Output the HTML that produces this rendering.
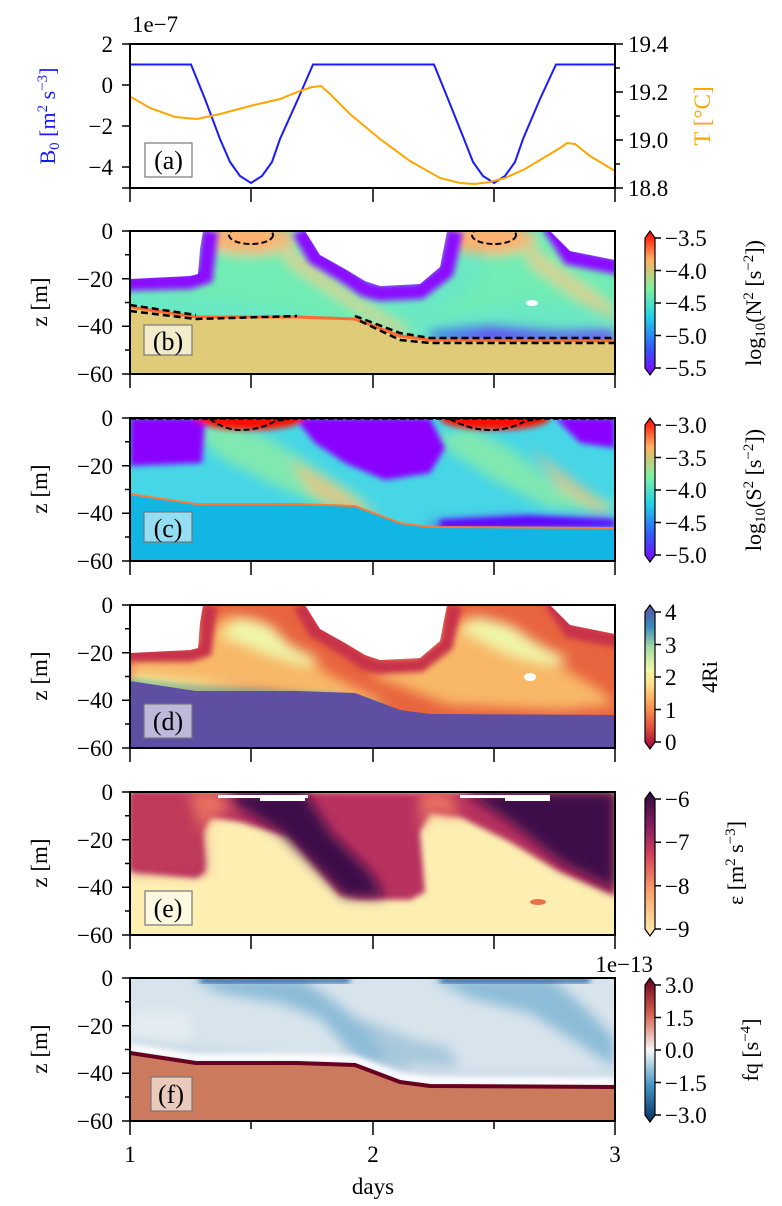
<!DOCTYPE html>
<html><head><meta charset="utf-8"><style>
html,body{margin:0;padding:0;background:#fff;}
svg{display:block;font-family:"Liberation Serif","DejaVu Serif",serif;}
</style></head><body>
<svg width="782" height="1206" viewBox="0 0 782 1206" xmlns="http://www.w3.org/2000/svg">
<defs>
<filter id="bl" x="-20%" y="-20%" width="140%" height="140%"><feGaussianBlur stdDeviation="6"/></filter>
<filter id="bl2" x="-20%" y="-20%" width="140%" height="140%"><feGaussianBlur stdDeviation="3"/></filter>
<clipPath id="cp"><rect x="0" y="0" width="485" height="143"/></clipPath>
<linearGradient id="rainbow" x1="0" y1="1" x2="0" y2="0">
<stop offset="0" stop-color="#8000ff"/><stop offset="0.2" stop-color="#3060f8"/><stop offset="0.4" stop-color="#20d0e8"/><stop offset="0.6" stop-color="#80f0a0"/><stop offset="0.8" stop-color="#ffb060"/><stop offset="1" stop-color="#ff0000"/></linearGradient>
<linearGradient id="spectral" x1="0" y1="1" x2="0" y2="0">
<stop offset="0" stop-color="#9e0142"/><stop offset="0.15" stop-color="#e0503a"/><stop offset="0.3" stop-color="#f99a52"/><stop offset="0.45" stop-color="#fee08b"/><stop offset="0.55" stop-color="#f0f8a8"/><stop offset="0.7" stop-color="#aadca4"/><stop offset="0.85" stop-color="#3a8cbc"/><stop offset="1" stop-color="#5e4fa2"/></linearGradient>
<linearGradient id="magma" x1="0" y1="1" x2="0" y2="0">
<stop offset="0" stop-color="#fdf0b4"/><stop offset="0.3" stop-color="#f9a66a"/><stop offset="0.55" stop-color="#d8445a"/><stop offset="0.75" stop-color="#8a1e60"/><stop offset="1" stop-color="#2d0b3c"/></linearGradient>
<linearGradient id="rdbu" x1="0" y1="1" x2="0" y2="0">
<stop offset="0" stop-color="#053061"/><stop offset="0.25" stop-color="#4393c3"/><stop offset="0.5" stop-color="#f7f7f7"/><stop offset="0.75" stop-color="#d6604d"/><stop offset="1" stop-color="#67001f"/></linearGradient>
</defs>

<!-- ============ Panel (a) ============ -->
<g transform="translate(130,44)">
<polyline fill="none" stroke="#1a1aff" stroke-width="2" points="0,20.5 61,20.5 75,55 90,95 100,118 110,132 121,139 132,132 142,118 150,95 168,55 183,20.5 304,20.5 318,55 334,95 343,118 353,132 364,139 375,132 385,118 393,95 410,55 426,20.5 485,20.5"/>
<polyline fill="none" stroke="#ffa500" stroke-width="2" points="1,53 20,64 45,73 67,75 90,70 120,62 150,55 170,47 182,43 191,42 200,50 220,70 250,95 280,117 310,134 330,139 345,140 360,138 375,134 395,125 415,113 430,104 437,99 445,100 460,112 485,127"/>
<rect x="0" y="0" width="485" height="144" fill="none" stroke="#000" stroke-width="2"/>
<rect x="15" y="99" width="47" height="34" fill="#fff" fill-opacity="0.7" stroke="#777" stroke-width="1.2"/>
<text x="38.5" y="125" font-size="26" text-anchor="middle">(a)</text>
</g>
<g font-size="23" text-anchor="end">
<text x="113" y="52">2</text><text x="113" y="93">0</text><text x="113" y="134">−2</text><text x="113" y="175">−4</text>
</g>
<g stroke="#000" stroke-width="1.5">
<line x1="122" y1="44" x2="130" y2="44"/><line x1="122" y1="85" x2="130" y2="85"/><line x1="122" y1="126" x2="130" y2="126"/><line x1="122" y1="167" x2="130" y2="167"/><line x1="122" y1="188" x2="130" y2="188"/>
<line x1="615" y1="44" x2="623" y2="44"/><line x1="615" y1="92" x2="623" y2="92"/><line x1="615" y1="140" x2="623" y2="140"/><line x1="615" y1="188" x2="623" y2="188"/>
<line x1="615" y1="68" x2="620" y2="68"/><line x1="615" y1="116" x2="620" y2="116"/><line x1="615" y1="164" x2="620" y2="164"/>
</g>
<g font-size="23"><text x="628" y="52">19.4</text><text x="628" y="100">19.2</text><text x="628" y="148">19.0</text><text x="628" y="196">18.8</text></g>
<text x="132" y="32" font-size="23">1e−7</text>
<text transform="translate(55,116) rotate(-90)" font-size="22" fill="#1a1aff" text-anchor="middle">B<tspan font-size="15" dy="4">0</tspan><tspan dy="-4"> [m</tspan><tspan font-size="15" dy="-8">2</tspan><tspan dy="8"> s</tspan><tspan font-size="15" dy="-8">−3</tspan><tspan dy="8">]</tspan></text>
<text transform="translate(710,116) rotate(-90)" font-size="23" fill="#ffa500" text-anchor="middle">T [°C]</text>

<!-- ============ Panel (b) ============ -->
<g transform="translate(130,231)">
<g clip-path="url(#cp)">
<rect x="0" y="0" width="485" height="143" fill="#6ae8c4"/>
<g filter="url(#bl)">
<polygon points="0,40 60,40 80,0 120,0 170,10 200,40 230,60 260,80 290,95 340,60 360,20 410,0 460,20 485,40 485,80 400,70 330,80 270,100 230,100 160,80 100,70 20,60" fill="#70ecb4"/>
<polygon points="300,100 360,95 420,100 485,100 485,110 300,110" fill="#4070f0"/>
<ellipse cx="120" cy="8" rx="45" ry="15" fill="#ffb070"/><ellipse cx="360" cy="8" rx="45" ry="15" fill="#ffb070"/>
<polygon points="140,5 170,25 230,70 280,100 270,105 220,75 160,35" fill="#d8d090"/>
<polygon points="390,5 420,30 470,65 485,80 485,90 450,70 400,35" fill="#d8d090"/>
<polygon points="320,110 360,100 420,105 485,100 485,112 320,112" fill="#7020ff" opacity="0.8"/>
</g>
<g filter="url(#bl2)" fill="none" stroke="#8a10ff" stroke-width="16">
<polyline points="-10,52 60,50 75,45 80,0"/>
<polyline points="170,0 185,26 215,44 235,58 250,62 290,60 316,40 325,0"/>
<polyline points="420,-5 440,26 490,36"/>
</g>
<polygon points="0,0 73,0 70,18 68,43 60,45 0,48" fill="#fff"/>
<polygon points="175,0 190,24 215,38 235,50 250,55 290,53 310,36 317,0" fill="#fff"/>
<polygon points="420,0 440,20 485,29 485,0" fill="#fff"/>
<ellipse cx="402" cy="72" rx="6" ry="3" fill="#fff"/>
<polygon points="0,76 66,86 167,86 225,88 270,105 300,109 485,110 485,143 0,143" fill="#e0cc78"/>
<polyline points="0,76 66,86 167,86 225,88 270,105 300,109 485,110" fill="none" stroke="#ff6a30" stroke-width="3"/>
<polyline points="0,80 66,88 167,85" fill="none" stroke="#000" stroke-width="2.5" stroke-dasharray="7,4"/>
<polyline points="0,74 66,84" fill="none" stroke="#000" stroke-width="2.5" stroke-dasharray="7,4"/>
<polyline points="225,85 270,102 300,107 485,107" fill="none" stroke="#000" stroke-width="2.5" stroke-dasharray="7,4"/>
<polyline points="230,90 270,109 300,112 485,112" fill="none" stroke="#000" stroke-width="2.5" stroke-dasharray="7,4"/>
<ellipse cx="121" cy="4" rx="22" ry="9" fill="none" stroke="#000" stroke-width="2" stroke-dasharray="6,3"/>
<ellipse cx="364" cy="4" rx="22" ry="9" fill="none" stroke="#000" stroke-width="2" stroke-dasharray="6,3"/>
</g>
<rect x="0" y="0" width="485" height="143" fill="none" stroke="#000" stroke-width="2"/>
<rect x="14" y="94" width="48" height="30" fill="#fff" fill-opacity="0.6" stroke="#777" stroke-width="1.2"/>
<text x="38" y="119" font-size="26" text-anchor="middle">(b)</text>
</g>

<!-- ============ Panel (c) ============ -->
<g transform="translate(130,418)">
<g clip-path="url(#cp)">
<rect x="0" y="0" width="485" height="143" fill="#46d6e6"/>
<g filter="url(#bl)">
<polygon points="60,10 100,5 140,20 200,60 240,85 200,90 150,70 90,40" fill="#80e8b0"/>
<polygon points="300,20 340,10 380,30 430,70 485,85 485,95 420,90 360,60" fill="#80e8b0"/>
<polygon points="160,40 210,70 250,100 230,105 180,75" fill="#f0c080" opacity="0.8"/>
<polygon points="400,30 440,60 480,90 470,95 430,70" fill="#f0c080" opacity="0.8"/>
<polygon points="300,105 380,100 485,100 485,112 300,112" fill="#5050f0"/>
</g>
<g filter="url(#bl2)">
<polygon points="0,0 75,0 72,45 0,48" fill="#8a00ff"/>
<polygon points="165,0 300,0 315,30 300,55 255,62 215,45 185,25" fill="#8a00ff"/>
<polygon points="425,0 485,0 485,30 450,25" fill="#8a00ff"/>
<ellipse cx="120" cy="0" rx="55" ry="12" fill="#ff1000"/>
<ellipse cx="365" cy="0" rx="55" ry="12" fill="#ff1000"/>
<polygon points="310,102 400,98 485,102 485,108 310,110" fill="#6000ff"/>
</g>
<polygon points="0,76 66,86 167,86 225,88 270,105 300,109 485,110 485,143 0,143" fill="#12b6e4"/>
<polyline points="0,76 66,86 167,86 225,88 270,105 300,109 485,110" fill="none" stroke="#ff7a30" stroke-width="2"/>
<path d="M80,1 Q95,12 110,12 Q130,12 145,3 L160,1" fill="none" stroke="#000" stroke-width="2" stroke-dasharray="6,3"/>
<path d="M320,1 Q340,12 360,12 Q380,12 395,3 L410,1" fill="none" stroke="#000" stroke-width="2" stroke-dasharray="6,3"/>
<line x1="0" y1="1" x2="485" y2="1" stroke="#000" stroke-width="1.5" stroke-dasharray="6,3"/>
</g>
<rect x="0" y="0" width="485" height="143" fill="none" stroke="#000" stroke-width="2"/>
<rect x="14" y="94" width="48" height="30" fill="#fff" fill-opacity="0.55" stroke="#777" stroke-width="1.2"/>
<text x="38" y="119" font-size="26" text-anchor="middle">(c)</text>
</g>

<!-- ============ Panel (d) ============ -->
<g transform="translate(130,605)">
<g clip-path="url(#cp)">
<rect x="0" y="0" width="485" height="143" fill="#e8643e"/>
<g filter="url(#bl)">
<polygon points="0,45 60,40 80,20 100,10 130,15 160,40 200,70 240,90 260,100 200,100 120,80 40,75 0,70" fill="#f8b868"/>
<polygon points="240,70 300,30 340,10 380,20 420,55 470,85 485,100 430,105 320,100" fill="#f8b868"/>
<polygon points="90,30 110,12 140,20 160,40 190,55 175,60 140,50" fill="#f0f6a8"/>
<polygon points="330,25 350,12 380,20 410,40 440,55 420,60 380,50" fill="#f0f6a8"/>
<polygon points="0,70 80,78 150,85 0,85" fill="#f0f0a0"/>
</g>
<g filter="url(#bl2)" fill="none" stroke="#c8304a" stroke-width="14">
<polyline points="-10,50 60,50 75,45 80,0"/>
<polyline points="170,0 185,26 215,44 235,58 250,62 290,60 316,40 325,0"/>
<polyline points="420,-5 440,26 490,36"/>
</g>
<polygon points="0,0 73,0 70,18 68,43 60,45 0,48" fill="#fff"/>
<polygon points="175,0 190,24 215,38 235,50 250,55 290,53 310,36 317,0" fill="#fff"/>
<polygon points="420,0 440,20 485,29 485,0" fill="#fff"/>
<polyline points="0,76 70,84 150,88 200,90 250,100" fill="none" stroke="#60c0a0" stroke-width="4" filter="url(#bl2)"/>
<polygon points="0,76 66,86 167,86 225,88 270,105 300,109 485,110 485,143 0,143" fill="#5e4fa2"/>
<ellipse cx="400" cy="72" rx="6" ry="4" fill="#fff"/>
</g>
<rect x="0" y="0" width="485" height="143" fill="none" stroke="#000" stroke-width="2"/>
<rect x="14" y="99" width="48" height="34" fill="#fff" fill-opacity="0.6" stroke="#777" stroke-width="1.2"/>
<text x="38" y="125" font-size="26" text-anchor="middle">(d)</text>
</g>

<!-- ============ Panel (e) ============ -->
<g transform="translate(130,792)">
<g clip-path="url(#cp)">
<rect x="0" y="0" width="485" height="143" fill="#fdeeb2"/>
<g filter="url(#bl2)">
<polygon points="0,0 485,0 485,104 430,80 380,50 330,25 300,20 290,40 295,100 280,108 230,107 210,103 190,80 160,45 110,30 80,25 72,40 75,80 66,86 0,79" fill="#b8305e"/>
</g>
<g filter="url(#bl)">
<polygon points="0,0 70,0 72,40 75,80 0,79" fill="#c03a5a"/>
<polygon points="95,0 175,0 200,40 240,80 255,105 215,105 180,70 150,40 110,15" fill="#3e0e48"/>
<polygon points="335,0 485,0 485,98 430,70 380,30" fill="#3e0e48"/>
<polygon points="60,0 90,0 100,20 80,25 72,40" fill="#e87060"/>
<polygon points="290,0 320,0 330,25 300,20 290,40" fill="#e87060"/>
</g>
<rect x="88" y="3" width="90" height="3" fill="#fff"/>
<rect x="130" y="3" width="45" height="6" fill="#fff"/>
<rect x="330" y="3" width="90" height="3" fill="#fff"/>
<rect x="375" y="3" width="45" height="6" fill="#fff"/>
<ellipse cx="408" cy="110" rx="8" ry="3" fill="#e8704a"/>
</g>
<rect x="0" y="0" width="485" height="143" fill="none" stroke="#000" stroke-width="2"/>
<rect x="15" y="99" width="47" height="34" fill="#fff" fill-opacity="0.6" stroke="#777" stroke-width="1.2"/>
<text x="38" y="125" font-size="26" text-anchor="middle">(e)</text>
</g>

<!-- ============ Panel (f) ============ -->
<g transform="translate(130,978)">
<g clip-path="url(#cp)">
<rect x="0" y="0" width="485" height="143" fill="#d8e4ec"/>
<g filter="url(#bl)">
<polygon points="60,0 170,0 200,20 250,60 280,90 230,85 190,40 150,25 90,15" fill="#8cbcd8"/>
<polygon points="300,0 420,0 450,25 485,60 485,90 440,60 400,35 340,20" fill="#8cbcd8"/>
<polygon points="230,40 280,60 320,70 330,90 260,85" fill="#a8c8dc"/>
<rect x="0" y="35" width="60" height="30" fill="#e4ecf2"/>
<polygon points="0,60 120,75 250,85 300,95 485,95 485,105 0,100" fill="#c8d8e4"/>
</g>
<rect x="70" y="0" width="150" height="5" fill="#1a5aa0" filter="url(#bl2)"/>
<rect x="310" y="0" width="150" height="5" fill="#1a5aa0" filter="url(#bl2)"/>
<polyline points="0,70 66,80 167,80 225,82 270,99 300,103 485,104" fill="none" stroke="#fff" stroke-width="8" filter="url(#bl2)"/>
<polygon points="0,76 66,86 167,86 225,88 270,105 300,109 485,110 485,143 0,143" fill="#cc7a5e"/>
<polyline points="0,75 66,85 167,85 225,87 270,104 300,108 485,109" fill="none" stroke="#67001f" stroke-width="4"/>
</g>
<rect x="0" y="0" width="485" height="143" fill="none" stroke="#000" stroke-width="2"/>
<rect x="21" y="99" width="41" height="34" fill="#fff" fill-opacity="0.6" stroke="#777" stroke-width="1.2"/>
<text x="41" y="125" font-size="26" text-anchor="middle">(f)</text>
</g>

<!-- ============ Shared axes for b-f ============ -->
<g font-size="23" text-anchor="end">
<text x="113" y="239">0</text><text x="113" y="287">−20</text><text x="113" y="334">−40</text><text x="113" y="382">−60</text>
<text x="113" y="426">0</text><text x="113" y="474">−20</text><text x="113" y="521">−40</text><text x="113" y="569">−60</text>
<text x="113" y="613">0</text><text x="113" y="661">−20</text><text x="113" y="708">−40</text><text x="113" y="756">−60</text>
<text x="113" y="800">0</text><text x="113" y="848">−20</text><text x="113" y="895">−40</text><text x="113" y="943">−60</text>
<text x="113" y="986">0</text><text x="113" y="1034">−20</text><text x="113" y="1081">−40</text><text x="113" y="1129">−60</text>
</g>
<g stroke="#000" stroke-width="1.5">
<path d="M122,231H130M122,278.7H130M122,326.3H130M122,374H130M125,254.8H130M125,302.5H130M125,350H130"/>
<path d="M122,418H130M122,465.7H130M122,513.3H130M122,561H130M125,441.8H130M125,489.5H130M125,537H130"/>
<path d="M122,605H130M122,652.7H130M122,700.3H130M122,748H130M125,628.8H130M125,676.5H130M125,724H130"/>
<path d="M122,792H130M122,839.7H130M122,887.3H130M122,935H130M125,815.8H130M125,863.5H130M125,911H130"/>
<path d="M122,978H130M122,1025.7H130M122,1073.3H130M122,1121H130M125,1001.8H130M125,1049.5H130M125,1097H130"/>
<path d="M130,188V202M251,188V202M373,188V202M494,188V202M615,188V202"/>
<path d="M130,374V388M251,374V388M373,374V388M494,374V388M615,374V388"/>
<path d="M130,561V575M251,561V575M373,561V575M494,561V575M615,561V575"/>
<path d="M130,748V762M251,748V762M373,748V762M494,748V762M615,748V762"/>
<path d="M130,935V949M251,935V949M373,935V949M494,935V949M615,935V949"/>
<path d="M130,1121V1135M251,1121V1129M373,1121V1135M494,1121V1129M615,1121V1135"/>
</g>
<g font-size="23" text-anchor="middle">
<text transform="translate(47,302) rotate(-90)">z [m]</text>
<text transform="translate(47,489) rotate(-90)">z [m]</text>
<text transform="translate(47,676) rotate(-90)">z [m]</text>
<text transform="translate(47,863) rotate(-90)">z [m]</text>
<text transform="translate(47,1049) rotate(-90)">z [m]</text>
<text x="130" y="1162">1</text><text x="373" y="1162">2</text><text x="615" y="1162">3</text>
<text x="373" y="1194">days</text>
</g>
<text x="653" y="972" font-size="23" text-anchor="end">1e−13</text>

<!-- ============ Colorbars ============ -->
<g stroke="#000" stroke-width="1.2">
<path d="M645,238 L650,231 L655,238 L655,368 L650,375 L645,368 Z" fill="url(#rainbow)"/>
<path d="M645,425 L650,418 L655,425 L655,555 L650,562 L645,555 Z" fill="url(#rainbow)"/>
<path d="M645,612 L650,605 L655,612 L655,742 L650,749 L645,742 Z" fill="url(#spectral)"/>
<path d="M645,799 L650,792 L655,799 L655,929 L650,936 L645,929 Z" fill="url(#magma)"/>
<path d="M645,985 L650,978 L655,985 L655,1115 L650,1122 L645,1115 Z" fill="url(#rdbu)"/>
</g>
<g stroke="#000" stroke-width="1.5">
<path d="M655,238H661M655,270.5H661M655,303H661M655,335.5H661M655,368H661"/>
<path d="M655,425H661M655,457.5H661M655,490H661M655,522.5H661M655,555H661"/>
<path d="M655,612H661M655,644.5H661M655,677H661M655,709.5H661M655,742H661"/>
<path d="M655,799H661M655,842.3H661M655,885.7H661M655,929H661"/>
<path d="M655,985H661M655,1017.5H661M655,1050H661M655,1082.5H661M655,1115H661"/>
</g>
<g font-size="23">
<text x="665" y="246">−3.5</text><text x="665" y="279">−4.0</text><text x="665" y="311">−4.5</text><text x="665" y="344">−5.0</text><text x="665" y="376">−5.5</text>
<text x="665" y="433">−3.0</text><text x="665" y="466">−3.5</text><text x="665" y="498">−4.0</text><text x="665" y="531">−4.5</text><text x="665" y="563">−5.0</text>
<text x="665" y="620">4</text><text x="665" y="653">3</text><text x="665" y="685">2</text><text x="665" y="718">1</text><text x="665" y="750">0</text>
<text x="665" y="807">−6</text><text x="665" y="850">−7</text><text x="665" y="894">−8</text><text x="665" y="937">−9</text>
<text x="665" y="993">3.0</text><text x="665" y="1026">1.5</text><text x="665" y="1058">0.0</text><text x="665" y="1091">−1.5</text><text x="665" y="1123">−3.0</text>
</g>
<g font-size="22" text-anchor="middle">
<text transform="translate(761,303) rotate(-90)">log<tspan font-size="15" dy="4">10</tspan><tspan dy="-4">(N</tspan><tspan font-size="15" dy="-8">2</tspan><tspan dy="8"> [s</tspan><tspan font-size="15" dy="-8">−2</tspan><tspan dy="8">])</tspan></text>
<text transform="translate(761,490) rotate(-90)">log<tspan font-size="15" dy="4">10</tspan><tspan dy="-4">(S</tspan><tspan font-size="15" dy="-8">2</tspan><tspan dy="8"> [s</tspan><tspan font-size="15" dy="-8">−2</tspan><tspan dy="8">])</tspan></text>
<text transform="translate(717,677) rotate(-90)">4Ri</text>
<text transform="translate(743,863) rotate(-90)">ε [m<tspan font-size="15" dy="-8">2</tspan><tspan dy="8"> s</tspan><tspan font-size="15" dy="-8">−3</tspan><tspan dy="8">]</tspan></text>
<text transform="translate(758,1050) rotate(-90)">fq [s<tspan font-size="15" dy="-8">−4</tspan><tspan dy="8">]</tspan></text>
</g>
</svg>
</body></html>
